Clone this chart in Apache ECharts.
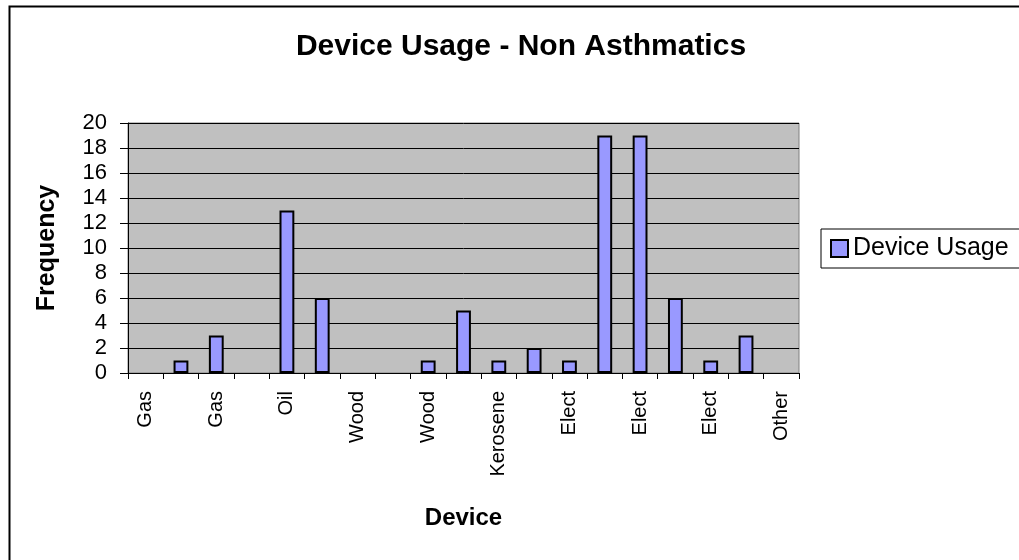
<!DOCTYPE html>
<html>
<head>
<meta charset="utf-8">
<script src="https://cdn.jsdelivr.net/npm/echarts@6/dist/echarts.min.js"></script>
<style>
html,body{margin:0;padding:0;background:#fff;}
#chart{width:1019px;height:560px;}
</style>
</head>
<body>
<div id="chart"></div>
<script>
var titleText = 'Device Usage - Non Asthmatics';
var xAxisTitle = 'Device';
var yAxisTitle = 'Frequency';
var seriesName = 'Device Usage';
var categories = ['Gas','','Gas','','Oil','','Wood','','Wood','','Kerosene','','Elect','','Elect','','Elect','','Other'];
var values = [0,1,3,0,13,6,0,0,1,5,1,2,1,19,19,6,1,3,0];
var yTicks = {min:0, max:20, interval:2};

var font = 'Liberation Sans, Arial, sans-serif';
var barData = values.map(function(v){
  return v === 0 ? {value:v, itemStyle:{borderWidth:0, opacity:0}} : v;
});
var chart = echarts.init(document.getElementById('chart'));
chart.setOption({
  backgroundColor:'#ffffff',
  animation:false,
  title:{
    text:titleText, left:516, top:27, textAlign:'center',
    textStyle:{fontFamily:font, fontSize:30, fontWeight:'bold', color:'#000'}
  },
  legend:{
    data:[{name:seriesName, icon:'rect'}], left:821, top:229, orient:'vertical',
    borderColor:'#000', borderWidth:1, padding:[7,20,7,9],
    itemWidth:17, itemHeight:17, itemGap:5,
    textStyle:{fontFamily:font, fontSize:25, color:'#000'},
    itemStyle:{borderColor:'#000', borderWidth:2}
  },
  grid:{left:128, top:123, right:220, bottom:187, show:true,
    backgroundColor:'#c0c0c0', borderColor:'#808080', borderWidth:1, containLabel:false},
  xAxis:{
    type:'category', data:categories,
    name:xAxisTitle, nameLocation:'middle', nameGap:133,
    nameTextStyle:{fontFamily:font, fontSize:24, fontWeight:'bold', color:'#000'},
    axisLine:{lineStyle:{color:'#000', width:1}},
    axisTick:{show:true, alignWithLabel:false, interval:0, length:6, lineStyle:{color:'#000'}},
    axisLabel:{interval:1, rotate:90, margin:18, fontFamily:font, fontSize:20, color:'#000'},
    splitLine:{show:false}
  },
  yAxis:{
    type:'value', min:yTicks.min, max:yTicks.max, interval:yTicks.interval,
    name:yAxisTitle, nameLocation:'middle', nameGap:68,
    nameTextStyle:{fontFamily:font, fontSize:25, fontWeight:'bold', color:'#000'},
    axisLine:{show:true, lineStyle:{color:'#000', width:1}},
    axisTick:{show:true, length:8, inside:false, lineStyle:{color:'#000'}},
    axisLabel:{margin:21, fontFamily:font, fontSize:22, color:'#000'},
    splitLine:{show:true, lineStyle:{color:'#000', width:1}}
  },
  series:[{
    name:seriesName, type:'bar', data:barData,
    barCategoryGap:'58%',
    itemStyle:{color:'#9999ff', borderColor:'#000', borderWidth:2}
  }],
  graphic:[{
    type:'rect', left:7, top:4, silent:true, z:-1,
    shape:{x:0, y:0, width:1100, height:700},
    style:{fill:null, stroke:'#000', lineWidth:2}
  }]
});
</script>
</body>
</html>
